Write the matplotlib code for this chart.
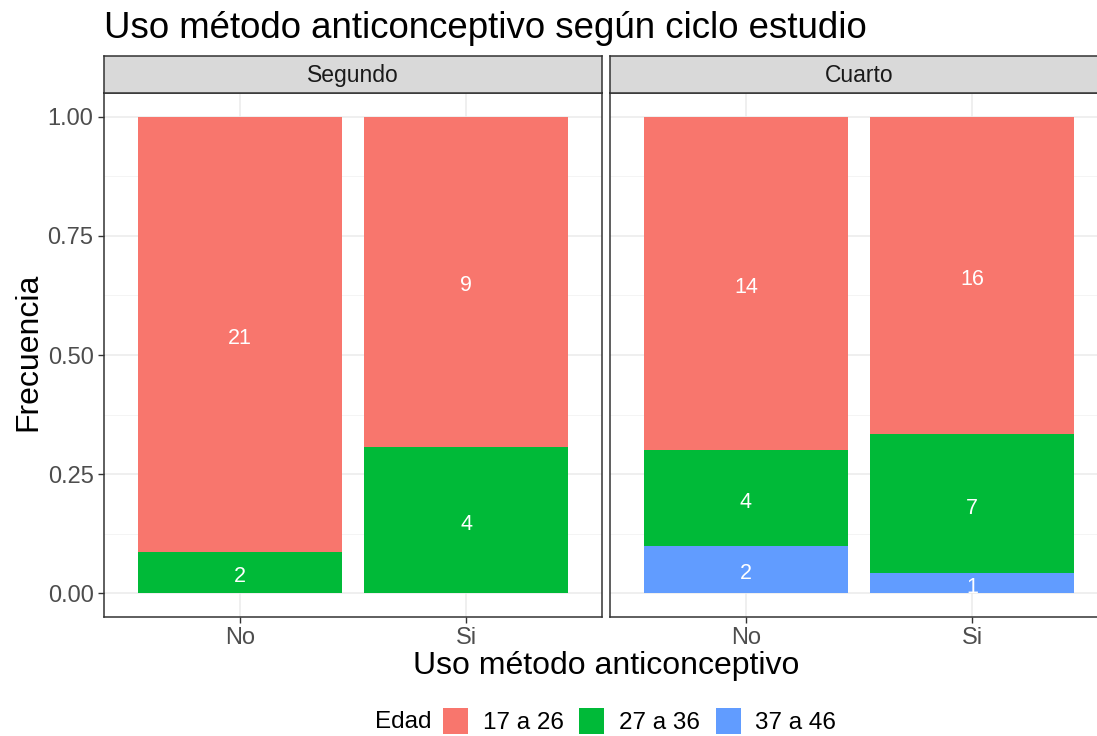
import numpy as np
import matplotlib
matplotlib.use("Agg")
import matplotlib.pyplot as plt
from matplotlib.patches import Patch

plt.rcParams['font.family'] = ['Liberation Sans', 'DejaVu Sans']

# datos
ciclos = ["Segundo", "Cuarto"]
uso = ["No", "Si"]
edades = ["17 a 26", "27 a 36", "37 a 46"]
colores = ["#F8766D", "#00BA38", "#619CFF"]
# conteos por ciclo: filas = edad, columnas = uso (No, Si)
segundo = [[21, 9], [2, 4], [0, 0]]
cuarto = [[14, 16], [4, 7], [2, 1]]
conteos = [segundo, cuarto]

W, H = 1097, 736
fig = plt.figure(figsize=(W / 100, H / 100), dpi=100)

def fx(px):
    return px / W

def fy(py):
    return 1 - py / H

panel_top, panel_bot = 93, 617
strip_top = 56
lefts = [104, 610]
pw = 498

X = np.arange(1, len(uso) + 1)

for k, ciclo in enumerate(ciclos):
    ax = fig.add_axes([fx(lefts[k]), fy(panel_bot), fx(pw), (panel_bot - panel_top) / H])
    c = np.array(conteos[k], dtype=float)
    tot = c.sum(axis=0)
    prop = c / tot
    # apilar: la primera edad arriba
    bottom = np.zeros(len(uso))
    for i in reversed(range(len(edades))):
        ax.bar(X, prop[i], bottom=bottom, width=0.9, color=colores[i], zorder=3)
        for j in range(len(uso)):
            if c[i, j] > 0:
                ax.annotate(f"{int(c[i, j])}", (X[j], bottom[j] + prop[i, j] / 2),
                            xytext=(0, -3), textcoords='offset points',
                            ha='center', va='center', color='white', fontsize=15.5,
                            zorder=4, annotation_clip=False)
        bottom += prop[i]

    ax.set_xlim(0.4, 2.6)
    ax.set_ylim(-0.05, 1.05)
    ax.set_yticks([0, 0.25, 0.5, 0.75, 1.0])
    ax.set_yticks([0.125, 0.375, 0.625, 0.875], minor=True)
    ax.set_xticks(X)
    ax.set_xticklabels(uso)
    ax.grid(which='major', color='#EBEBEB', linewidth=1.1, zorder=0)
    ax.grid(which='minor', axis='y', color='#F2F2F2', linewidth=0.6, zorder=0)
    ax.tick_params(which='minor', length=0)
    ax.tick_params(which='major', length=4.5, width=1, color='#333333',
                   labelcolor='#4D4D4D', labelsize=17, pad=3)
    if k == 0:
        ax.set_yticklabels(["0.00", "0.25", "0.50", "0.75", "1.00"])
    else:
        ax.tick_params(axis='y', length=0, labelleft=False)
    for s in ax.spines.values():
        s.set_color('#333333')
        s.set_linewidth(1.1)

    sax = fig.add_axes([fx(lefts[k]), fy(panel_top), fx(pw), (panel_top - strip_top) / H])
    sax.set_facecolor('#D9D9D9')
    sax.set_xticks([])
    sax.set_yticks([])
    for s in sax.spines.values():
        s.set_color('#333333')
        s.set_linewidth(1.1)
    sax.text(0.5, 0.48, ciclo, ha='center', va='center', fontsize=16.5,
             color='#1A1A1A', transform=sax.transAxes)

fig.text(fx(104), fy(29), "Uso método anticonceptivo según ciclo estudio",
         fontsize=26.4, ha='left', va='center', color='black')
fig.text(fx(28), fy(352), "Frecuencia", rotation=90, fontsize=23,
         ha='center', va='center')
fig.text(fx(606), fy(666), "Uso método anticonceptivo", fontsize=23,
         ha='center', va='center')

fig.text(fx(375), fy(722), "Edad", fontsize=17.5, ha='left', va='center')
handles = [Patch(facecolor=col, edgecolor='none') for col in colores]
fig.legend(handles, edades, loc='center left', bbox_to_anchor=(fx(443), fy(721)),
           ncol=3, frameon=False, fontsize=17.5, handlelength=1.03, handleheight=1.3,
           handletextpad=0.6, columnspacing=0.65, borderpad=0, borderaxespad=0)

fig.savefig("out.png", dpi=100)
